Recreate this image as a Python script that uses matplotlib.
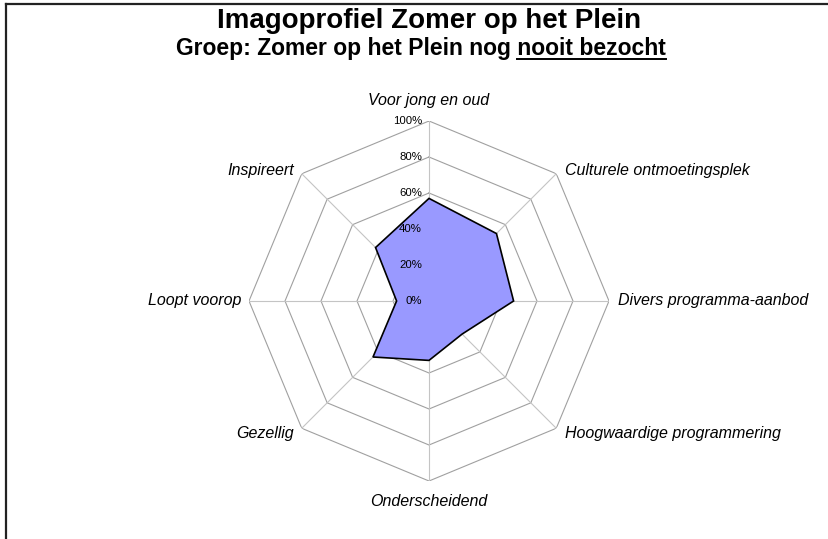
import numpy as np
import matplotlib
matplotlib.use('Agg')
import matplotlib.pyplot as plt
from matplotlib.transforms import offset_copy
from matplotlib.lines import Line2D

categories = ["Voor jong en oud", "Culturele ontmoetingsplek", "Divers programma-aanbod",
              "Hoogwaardige programmering", "Onderscheidend", "Gezellig",
              "Loopt voorop", "Inspireert"]
values = [57, 53, 47, 26, 33, 44, 18, 42]
tick_values = [0, 20, 40, 60, 80, 100]
tick_labels = ["0%", "20%", "40%", "60%", "80%", "100%"]
title = "Imagoprofiel Zomer op het Plein"
subtitle = "Groep: Zomer op het Plein nog nooit bezocht"
underlined = "nooit bezocht"

plt.rcParams['font.family'] = ['Liberation Sans', 'DejaVu Sans']

W, H = 829, 539
fig = plt.figure(figsize=(W / 100, H / 100), dpi=100)
cx, cy, R = 429, 301, 180
ax = fig.add_axes([(cx - R) / W, (H - cy - R) / H, 2 * R / W, 2 * R / H], projection='polar')
ax.set_theta_offset(np.pi / 2)
ax.set_theta_direction(-1)
ax.set_ylim(0, 100)
ax.grid(False)
ax.spines['polar'].set_visible(False)
ax.set_xticks([])
ax.set_yticks([])
ax.patch.set_alpha(0)

N = len(categories)
angles = np.arange(N) * 2 * np.pi / N
closed = np.append(angles, angles[0])

for t in tick_values[1:]:
    ax.plot(closed, [t] * (N + 1), color='#a0a0a0', lw=0.8, zorder=1, solid_joinstyle='miter')
for a in angles:
    ax.plot([a, a], [0, tick_values[-1]], color='#c4c4c4', lw=0.8, zorder=1)

vals = np.append(values, values[0])
ax.fill(closed, vals, facecolor='#9999ff', edgecolor='black', lw=1.2, zorder=2)

for t, lab in zip(tick_values, tick_labels):
    tr = offset_copy(ax.transData, fig=fig, x=-7, y=0, units='dots')
    ax.text(0, t, lab, transform=tr, ha='right', va='center', fontsize=8.2, zorder=5)

label_style = [
    (0, 20, 'center'), (9, 3, 'left'), (9, 0, 'left'), (9, -5, 'left'),
    (0, -20, 'center'), (-8, -5, 'right'), (-8, 0, 'right'), (-8, 3, 'right'),
]
for a, lab, (dx, dy, ha) in zip(angles, categories, label_style):
    tr = offset_copy(ax.transData, fig=fig, x=dx, y=dy, units='dots')
    ax.text(a, tick_values[-1], lab, transform=tr, ha=ha, va='center',
            fontsize=11.5, style='italic')

fig.text(cx / W, 1 - 21 / H, title, ha='center', va='center', fontsize=20, weight='bold')
st = fig.text(421 / W, 1 - 48.5 / H, subtitle, ha='center', va='center', fontsize=16.5, weight='bold')

fig.canvas.draw()
renderer = fig.canvas.get_renderer()
bb = st.get_window_extent(renderer)
tmp = fig.text(0, 0, underlined, fontsize=16.5, weight='bold')
wb = tmp.get_window_extent(renderer).width
tmp.remove()
uy = 1 - 59 / H
fig.add_artist(Line2D([(bb.x1 - wb) / W, bb.x1 / W], [uy, uy], color='black', lw=1.4,
                      transform=fig.transFigure))

# frame lines (left and top)
fig.add_artist(Line2D([6.5 / W, 6.5 / W], [0, 1 - 3.5 / H], color='#222222', lw=1.6,
                      transform=fig.transFigure))
fig.add_artist(Line2D([6.5 / W, 1], [1 - 3.5 / H, 1 - 3.5 / H], color='#222222', lw=1.6,
                      transform=fig.transFigure))

fig.savefig('out.png', dpi=100, facecolor='white')
